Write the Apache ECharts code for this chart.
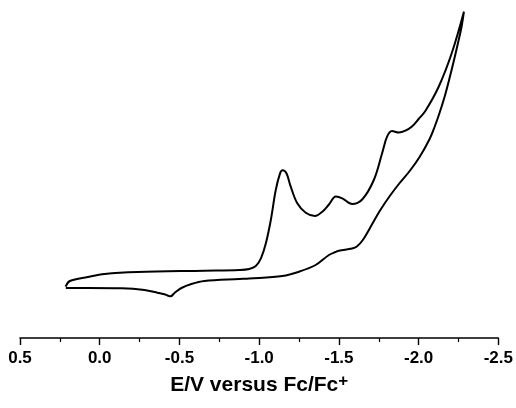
<!DOCTYPE html>
<html>
<head>
<meta charset="utf-8">
<title>Cyclic voltammogram</title>
<script src="https://cdn.jsdelivr.net/npm/echarts@6/dist/echarts.min.js"></script>
<style>
  html, body { margin: 0; padding: 0; background: #fff; }
  #chart { width: 516px; height: 408px; }
</style>
</head>
<body>
<div id="chart"></div>
<script>
// Potential (V vs Fc/Fc+) and current (arbitrary units) for the cathodic sweep
const forwardE = [0.214, 0.1875, 0.075, -0.031, -0.2375, -0.656, -0.875, -0.9375, -0.979, -1.011,
  -1.042, -1.073, -1.104, -1.131, -1.147, -1.171, -1.198, -1.239, -1.292, -1.35,
  -1.396, -1.4375, -1.481, -1.521, -1.583, -1.646, -1.719, -1.771, -1.802, -1.833,
  -1.875, -1.917, -1.958, -2.0, -2.042, -2.125, -2.208, -2.284];
const forwardI = [5.13, 5.7, 6.1, 6.4, 6.6, 6.73, 6.8, 6.9, 7.2, 7.97,
  9.47, 11.8, 14.8, 16.47, 16.77, 16.47, 15.13, 13.47, 12.53, 12.2,
  12.63, 13.35, 14.15, 13.97, 13.4, 13.85, 15.8, 18.47, 20.13, 20.7,
  20.55, 20.73, 21.15, 21.9, 22.7, 25.1, 28.5, 32.63];

// Return (anodic) sweep, from the switching potential back to the start
const reverseE = [-2.269, -2.244, -2.219, -2.194, -2.1625, -2.131, -2.1, -2.069, -2.006, -1.944,
  -1.881, -1.819, -1.756, -1.7125, -1.65, -1.6125, -1.583, -1.5, -1.479, -1.4375,
  -1.354, -1.25, -1.146, -0.9375, -0.875, -0.656, -0.575, -0.5125, -0.469, -0.444,
  -0.425, -0.406, -0.3625, -0.281, -0.1375, 0.075, 0.2125];
const reverseI = [31.1, 29.3, 27.6, 26.0, 24.1, 22.5, 21.1, 19.9, 18.1, 16.7,
  15.5, 14.2, 12.7, 11.5, 9.8, 9.15, 8.95, 8.73, 8.6, 8.3,
  7.3, 6.63, 6.2, 5.95, 5.9, 5.7, 5.4, 5.0, 4.5, 4.17,
  4.25, 4.37, 4.53, 4.8, 4.97, 5.0, 5.0];

const axisTitle = 'E/V versus Fc/Fc';
const axisTitleSup = '+';

const loop = forwardE.map((e, k) => [e, forwardI[k]])
  .concat(reverseE.map((e, k) => [e, reverseI[k]]));

const FONT = "'Liberation Sans', Arial, Helvetica, sans-serif";

const chart = echarts.init(document.getElementById('chart'), null, { renderer: 'canvas' });
chart.setOption({
  backgroundColor: '#ffffff',
  animation: false,
  grid: { left: 20, right: 16, top: 8, bottom: 70, containLabel: false },
  xAxis: {
    type: 'value',
    inverse: true,
    min: -2.5,
    max: 0.5,
    interval: 0.5,
    splitLine: { show: false },
    axisLine: { show: true, onZero: false, lineStyle: { color: '#000', width: 1.6 } },
    axisTick: { show: true, inside: false, length: 7, lineStyle: { color: '#000', width: 1.4 } },
    minorTick: { show: true, splitNumber: 2, length: 4, lineStyle: { color: '#000', width: 1.2 } },
    axisLabel: {
      margin: 12,
      color: '#000',
      fontFamily: FONT,
      fontWeight: 'bold',
      fontSize: 17,
      formatter: v => v.toFixed(1)
    },
    name: '{t|' + axisTitle + '}{s|' + axisTitleSup + '}',
    nameLocation: 'middle',
    nameGap: 35,
    nameTextStyle: {
      rich: {
        t: { fontFamily: FONT, fontWeight: 'bold', fontSize: 21, color: '#000', lineHeight: 25 },
        s: { fontFamily: FONT, fontWeight: 'bold', fontSize: 17, color: '#000', verticalAlign: 'top', lineHeight: 14 }
      }
    }
  },
  yAxis: {
    type: 'value',
    min: 0,
    max: 33,
    show: false
  },
  series: [{
    type: 'line',
    data: loop,
    showSymbol: false,
    smooth: 0.35,
    clip: false,
    lineStyle: { color: '#000', width: 2 }
  }]
});
</script>
</body>
</html>
